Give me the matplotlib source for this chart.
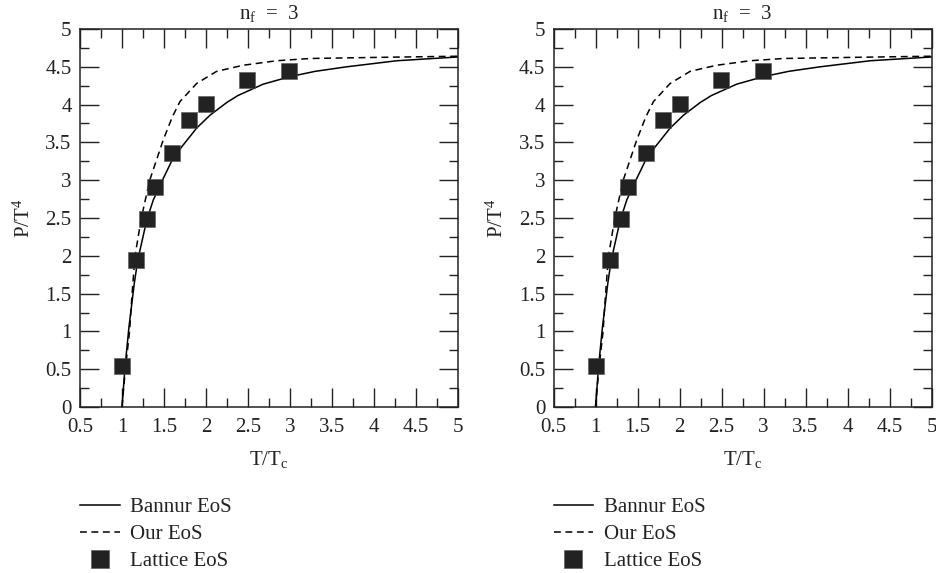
import matplotlib
matplotlib.use("Agg")
import matplotlib.pyplot as plt
from matplotlib.ticker import MultipleLocator

plt.rcParams['font.family'] = ['Liberation Serif', 'DejaVu Serif']
plt.rcParams['mathtext.fontset'] = 'custom'
plt.rcParams['mathtext.rm'] = 'Liberation Serif'
plt.rcParams['mathtext.it'] = 'Liberation Serif:italic'
plt.rcParams['mathtext.default'] = 'regular'

# Bannur EoS (solid line)
bannur_x = [1.0, 1.036, 1.083, 1.147, 1.187, 1.294, 1.373, 1.49, 1.59, 1.71,
            1.889, 2.048, 2.25, 2.38, 2.52, 2.68, 2.84, 3.0, 3.3, 3.675,
            4.27, 5.0]
bannur_y = [0.0, 0.53, 1.06, 1.64, 1.94, 2.47, 2.74, 3.02, 3.25, 3.44,
            3.69, 3.86, 4.03, 4.12, 4.19, 4.27, 4.32, 4.37, 4.44, 4.50,
            4.58, 4.63]

# Our EoS (dashed line)
our_x = [1.0, 1.04, 1.09, 1.12, 1.155, 1.23, 1.33, 1.49, 1.60, 1.69, 1.889,
         2.127, 2.44, 2.84, 3.24, 4.07, 5.0]
our_y = [0.0, 0.5, 1.0, 1.5, 2.0, 2.5, 3.0, 3.53, 3.84, 4.04, 4.28,
         4.44, 4.52, 4.58, 4.61, 4.625, 4.64]

# Lattice EoS (squares)
lat_x = [1.0, 1.17, 1.30, 1.39, 1.60, 1.80, 2.0, 2.49, 2.99]
lat_y = [0.54, 1.94, 2.49, 2.91, 3.36, 3.80, 4.01, 4.33, 4.45]

fig = plt.figure(figsize=(9.37, 5.73), dpi=100)
W, H = 937.0, 573.0
ax_w, ax_h = 378.0, 378.0
lefts = [80.0, 553.5]
bottom_px = 407.0
ink = '#222222'

for lp in lefts:
    ax = fig.add_axes([lp / W, (H - bottom_px) / H, ax_w / W, ax_h / H])
    ax.plot(bannur_x, bannur_y, color='black', lw=1.1, label='Bannur EoS')
    ax.plot(our_x, our_y, color='black', lw=1.1, dashes=(4.5, 3.0), label='Our EoS')
    ax.plot(lat_x, lat_y, ls='none', marker='s', ms=11.5, color=ink,
            mec='#555555', mew=0.4, label='Lattice EoS')

    ax.set_xlim(0.5, 5)
    ax.set_ylim(0, 5)
    ax.xaxis.set_major_locator(MultipleLocator(0.5))
    ax.xaxis.set_minor_locator(MultipleLocator(0.25))
    ax.yaxis.set_major_locator(MultipleLocator(0.5))
    ax.yaxis.set_minor_locator(MultipleLocator(0.25))
    ax.xaxis.set_major_formatter(plt.FuncFormatter(lambda v, p: f"{v:g}"))
    ax.yaxis.set_major_formatter(plt.FuncFormatter(lambda v, p: f"{v:g}"))
    ax.tick_params(which='both', direction='in', top=True, right=True,
                   labelsize=15, width=1.0, colors=ink)
    ax.tick_params(which='major', length=13.5, pad=6)
    ax.tick_params(which='minor', length=6.5)
    ax.tick_params(axis='x', which='major', pad=8)
    for s in ax.spines.values():
        s.set_linewidth(1.1)
        s.set_color(ink)

    ax.set_title(r'n$_\mathrm{f}$  =  3', fontsize=15, pad=7, color=ink)
    ax.set_xlabel(r'T/T$_\mathrm{c}$', fontsize=15, color=ink)
    ax.set_ylabel(r'P/T$^4$', fontsize=15, color=ink)
    ax.xaxis.set_label_coords(0.5, -0.11)
    ax.yaxis.set_label_coords(-0.12, 0.5)

    leg = ax.legend(loc='upper left', bbox_to_anchor=(0.0, -0.24), frameon=False,
                    fontsize=15, handlelength=1.9, handletextpad=0.5,
                    labelspacing=0.36, borderpad=0, borderaxespad=0,
                    markerscale=1.1)
    for t in leg.get_texts():
        t.set_color(ink)

fig.savefig('out.png', dpi=100)
